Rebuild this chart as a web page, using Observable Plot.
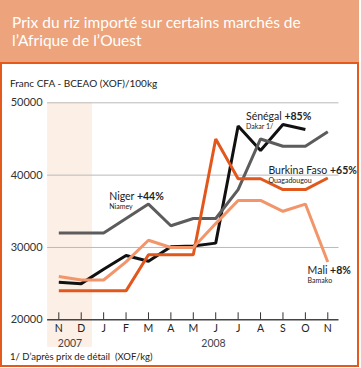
<!DOCTYPE html>
<html>
<head>
<meta charset="utf-8">
<script src="https://cdn.jsdelivr.net/npm/d3@7"></script>
<script src="https://cdn.jsdelivr.net/npm/@observablehq/plot@0.6"></script>
<style>
  html, body { margin: 0; padding: 0; background: #fff; }
  body { width: 361px; height: 368px; position: relative; overflow: hidden; font-family: Lato, "Noto Sans", sans-serif; }
  #header { position: absolute; left: 0; top: 0; width: 359px; height: 62px; background: #eda37b; }
  #title { position: absolute; left: 12px; top: 13px; color: #fff; font-size: 15.5px; line-height: 18px; }
  #box { position: absolute; left: 0; top: 62px; width: 355px; height: 301px; border: 2px solid #e35a1c; }
  #ylabel { position: absolute; left: 10px; top: 77px; font-size: 10px; color: #222; }
  #foot { position: absolute; left: 10px; top: 351px; font-size: 9.5px; color: #222; }
  #chart { position: absolute; left: 0; top: 62px; }
</style>
</head>
<body>
<div id="header"><div id="title">Prix du riz importé sur certains marchés de<br>l’Afrique de l’Ouest</div></div>
<div id="box"></div>
<div id="chart"></div>
<div id="ylabel">Franc CFA - BCEAO (XOF)/100kg</div>
<div id="foot">1/ D’après prix de détail&nbsp; (XOF/kg)</div>
<script>
const months = ["N", "D", "J", "F", "M", "A", "M", "J", "J", "A", "S", "O", "N"];
const years = ["2007", "2008"];
const yTicks = [20000, 30000, 40000, 50000];

const senegal = [25200, 25000, 27000, 28900, 28100, 30100, 30200, 30600, 46800, 43400, 47000, 46300];
const niger   = [32000, 32000, 32000, 34000, 36000, 33000, 34000, 34000, 38000, 45000, 44000, 44000, 46000];
const burkina = [24000, 24000, 24000, 24000, 29000, 29000, 29000, 45000, 39500, 39500, 38000, 38000, 39600];
const mali    = [26000, 25500, 25500, 28000, 31000, 30000, 30000, 33300, 36500, 36500, 35000, 36000, 28000];

const seriesNames = ["Sénégal", "Niger", "Burkina Faso", "Mali"];
const seriesPct = ["+85%", "+44%", "+65%", "+8%"];
const seriesCity = ["Dakar 1/", "Niamey", "Ouagadougou", "Bamako"];
const seriesValues = [senegal, niger, burkina, mali];
const colors = ["#111111", "#5c5c5c", "#e2571c", "#f2956a"];

const rows = seriesValues.flatMap((vals, s) => vals.map((v, i) => ({s: seriesNames[s], i, v})));

// label anchors (month index, value) for each series
const labelAt = [
  {i: 8.35, v: 48100},
  {i: 2.25, v: 37000},
  {i: 9.35, v: 40600},
  {i: 11.1, v: 26800}
];
const labels = labelAt.map((p, s) => ({...p, name: seriesNames[s], pct: seriesPct[s], city: seriesCity[s]}));

const font = 'Lato, "Noto Sans", sans-serif';

const plot = Plot.plot({
  width: 361,
  height: 306,
  marginTop: 40.3,
  marginBottom: 48.7,
  marginLeft: 47.1,
  marginRight: 22.5,
  style: {fontFamily: font, background: "transparent", overflow: "visible"},
  x: {type: "linear", domain: [-0.5, 12.5]},
  y: {domain: [20000, 50000]},
  color: {domain: seriesNames, range: colors},
  marks: [
    Plot.rect([0], {x1: -0.5, x2: 1.5, y1: 50000, y2: 16200, fill: "#fcefe6"}),
    Plot.ruleY(yTicks.filter(d => d > 20000), {stroke: "#b9b9b9", strokeWidth: 1}),
    Plot.ruleX(months.map((m, i) => i), {x: d => d, y1: 20000, y2: 20000, insetBottom: 7, stroke: "#333", strokeWidth: 1}),
    Plot.ruleY([20000], {stroke: "#444", strokeWidth: 1.6}),
    Plot.axisY({ticks: yTicks, tickSize: 0, tickPadding: 5, tickFormat: d => String(d), fontSize: 11, color: "#333", label: null}),
    Plot.axisX({ticks: months.map((m, i) => i), tickSize: 0, tickPadding: 5, tickFormat: i => months[i], fontSize: 10.5, color: "#222", label: null}),
    Plot.text(years, {x: (d, k) => k === 0 ? 0.5 : 6.9, y: 20000, dy: 20, text: d => d, fontSize: 10.5, fill: "#444", lineAnchor: "top"}),
    Plot.line(rows, {x: "i", y: "v", z: "s", stroke: "s", strokeWidth: 3, strokeLinejoin: "miter", strokeLinecap: "butt"}),
    Plot.text(labels, {x: "i", y: "v", text: d => d.name + " " + d.pct, textAnchor: "start", fontSize: 10.5, fill: "#222", className: "serieslabel"}),
    Plot.text(labels, {x: "i", y: "v", dy: 10, text: "city", textAnchor: "start", fontSize: 7, fill: "#222"})
  ]
});

// render percentage in bold
d3.select(plot).selectAll(".serieslabel text").each(function(d, k) {
  const t = d3.select(this);
  const parts = t.text().split(" ");
  const pct = parts.pop();
  t.text(null);
  t.append("tspan").text(parts.join(" ") + " ");
  t.append("tspan").attr("font-weight", "bold").text(pct);
});

document.getElementById("chart").appendChild(plot);
</script>
</body>
</html>
